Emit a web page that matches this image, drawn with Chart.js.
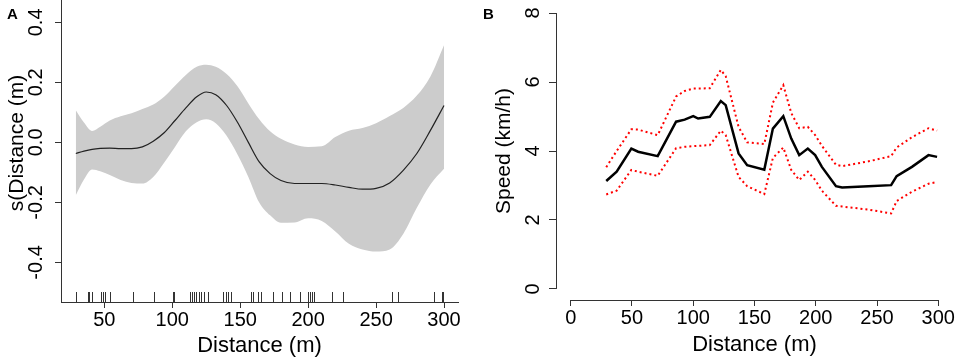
<!DOCTYPE html>
<html lang="en">
  <head>
    <meta charset="UTF-8" />
    <title>Distance effect and speed</title>
    <script src="https://cdn.jsdelivr.net/npm/chart.js"></script>
    <style>
      body {
        margin: 0;
        background: #fff;
      }
      .wrap {
        position: relative;
        width: 957px;
        height: 359px;
        overflow: hidden;
      }
      #chartA {
        position: absolute;
        left: 0;
        top: -16px;
      }
      #chartB {
        position: absolute;
        left: 478px;
        top: 0;
      }
    </style>
  </head>
  <body>
    <div class="wrap">
      <canvas id="chartA" width="478" height="375"></canvas>
      <canvas id="chartB" width="479" height="359"></canvas>
    </div>

    <script>
      // Panel A: smooth term s(Distance) with its confidence band
      const distA = [29, 35, 41, 47, 54, 62, 70, 78, 86, 94, 102, 110, 118, 125, 132, 140, 148,
        156, 164, 172, 180, 190, 200, 210, 220, 230, 240, 250, 260, 270, 280, 290, 300];
      const fitA = [-0.037, -0.029, -0.023, -0.02, -0.019, -0.021, -0.021, -0.015, 0.004, 0.032,
        0.073, 0.115, 0.152, 0.168, 0.159, 0.123, 0.067, 0.0, -0.065, -0.104, -0.127, -0.137,
        -0.137, -0.137, -0.142, -0.15, -0.156, -0.153, -0.135, -0.093, -0.037, 0.04, 0.123];
      const upperA = [0.107, 0.066, 0.038, 0.052, 0.073, 0.087, 0.097, 0.111, 0.126, 0.152, 0.189,
        0.225, 0.252, 0.259, 0.252, 0.228, 0.187, 0.13, 0.077, 0.037, 0.012, -0.007, -0.015,
        -0.013, 0.018, 0.039, 0.048, 0.064, 0.088, 0.115, 0.156, 0.22, 0.324];
      const lowerA = [-0.176, -0.124, -0.09, -0.096, -0.109, -0.125, -0.135, -0.137, -0.115, -0.068,
        -0.015, 0.037, 0.067, 0.077, 0.064, 0.022, -0.04, -0.115, -0.2, -0.243, -0.268, -0.267,
        -0.253, -0.262, -0.297, -0.338, -0.357, -0.364, -0.357, -0.305, -0.218, -0.14, -0.088];
      const rugA = [28.9, 37.7, 39, 41.2, 47.3, 49, 50.7, 54.5, 71.3, 86.3, 100.3, 101.3, 113.1,
        114.5, 116, 117.7, 119.4, 121.1, 123.4, 126.5, 137.6, 139.3, 141, 143, 157.7, 159.2,
        162.9, 165.3, 174.4, 180.5, 186.7, 194, 200.1, 201.4, 202.6, 204.6, 217.3, 225.4, 262,
        265.9, 292.6, 298.3, 299.5];
      const xTicksA = [50, 100, 150, 200, 250, 300];
      const yTicksA = [-0.4, -0.2, 0, 0.2, 0.4];

      // Panel B: observed speed with upper / lower bounds
      const distB = [29, 37.5, 49.5, 55, 71, 86, 93, 100, 104, 113.5, 122.5, 126.5, 137, 144, 158,
        165, 173.5, 180, 186.5, 193.5, 199.5, 205, 216.5, 221.5, 243, 261.5, 266, 278.5, 292, 299];
      const speedB = [3.13, 3.4, 4.07, 3.98, 3.85, 4.85, 4.91, 5.01, 4.94, 4.99, 5.45, 5.33, 3.93,
        3.59, 3.46, 4.65, 5.01, 4.36, 3.88, 4.07, 3.88, 3.54, 2.98, 2.94, 2.98, 3.01, 3.27, 3.54,
        3.88, 3.83];
      const upperB = [3.53, 4.0, 4.63, 4.62, 4.46, 5.58, 5.74, 5.81, 5.81, 5.82, 6.35, 6.17, 4.7,
        4.25, 4.2, 5.4, 5.91, 5.1, 4.66, 4.7, 4.46, 4.15, 3.6, 3.56, 3.7, 3.85, 4.1, 4.4, 4.66, 4.59];
      const lowerB = [2.74, 2.85, 3.45, 3.4, 3.28, 4.08, 4.12, 4.14, 4.15, 4.17, 4.59, 4.46, 3.25,
        2.98, 2.75, 3.8, 4.1, 3.45, 3.16, 3.4, 3.16, 2.85, 2.41, 2.39, 2.3, 2.19, 2.55, 2.82, 3.05,
        3.1];
      const xTicksB = [0, 50, 100, 150, 200, 250, 300];
      const yTicksB = [0, 2, 4, 6, 8];

      const family = '"Liberation Sans", Arial, Helvetica, sans-serif';
      const axisColor = "#333";

      const pts = (xs, ys) => xs.map((x, i) => ({ x: x, y: ys[i] }));

      // R-style rotated y tick labels
      function drawYLabels(chart, gap, fmt) {
        const s = chart.scales.y;
        const ctx = chart.ctx;
        ctx.save();
        ctx.font = "20px " + family;
        ctx.fillStyle = "#000";
        ctx.textAlign = "center";
        ctx.textBaseline = "middle";
        s.ticks.forEach((t) => {
          ctx.save();
          ctx.translate(chart.chartArea.left - gap, s.getPixelForValue(t.value));
          ctx.rotate(-Math.PI / 2);
          ctx.fillText(fmt(t.value), 0, 0);
          ctx.restore();
        });
        ctx.restore();
      }

      function drawLetter(chart, text, x, y) {
        const ctx = chart.ctx;
        ctx.save();
        ctx.font = "bold 15px " + family;
        ctx.fillStyle = "#000";
        ctx.textAlign = "left";
        ctx.textBaseline = "alphabetic";
        ctx.fillText(text, x, y);
        ctx.restore();
      }

      const extrasA = {
        id: "extrasA",
        afterDatasetsDraw(chart) {
          const xs = chart.scales.x;
          const bottom = chart.chartArea.bottom;
          const ctx = chart.ctx;
          ctx.save();
          ctx.strokeStyle = axisColor;
          ctx.lineWidth = 1;
          ctx.beginPath();
          rugA.forEach((v) => {
            const x = Math.round(xs.getPixelForValue(v)) + 0.5;
            ctx.moveTo(x, bottom);
            ctx.lineTo(x, bottom - 10);
          });
          ctx.stroke();
          ctx.restore();
        },
        afterDraw(chart) {
          drawYLabels(chart, 24.6, (v) => v.toFixed(1));
          drawLetter(chart, "A", 7, 34.5);
        },
      };

      const extrasB = {
        id: "extrasB",
        afterDraw(chart) {
          const xs = chart.scales.x;
          const ys = chart.scales.y;
          const area = chart.chartArea;
          const ctx = chart.ctx;
          ctx.save();
          ctx.strokeStyle = axisColor;
          ctx.lineWidth = 1;
          ctx.beginPath();
          const lx = Math.round(area.left) + 0.5;
          ctx.moveTo(lx, ys.getPixelForValue(yTicksB[0]));
          ctx.lineTo(lx, ys.getPixelForValue(yTicksB[yTicksB.length - 1]));
          const by = Math.round(area.bottom) + 0.5;
          ctx.moveTo(xs.getPixelForValue(xTicksB[0]), by);
          ctx.lineTo(xs.getPixelForValue(xTicksB[xTicksB.length - 1]), by);
          ctx.stroke();
          ctx.restore();
          drawYLabels(chart, 23, (v) => String(v));
          drawLetter(chart, "B", 5, 18.5);
        },
      };

      new Chart(document.getElementById("chartA"), {
        type: "line",
        data: {
          datasets: [
            {
              label: "s(Distance)",
              data: pts(distA, fitA),
              borderColor: "#222",
              borderWidth: 1.2,
              pointRadius: 0,
              cubicInterpolationMode: "monotone",
              fill: false,
            },
            {
              label: "upper",
              data: pts(distA, upperA),
              borderColor: "rgba(0,0,0,0)",
              borderWidth: 0,
              backgroundColor: "#cccccc",
              pointRadius: 0,
              cubicInterpolationMode: "monotone",
              fill: "+1",
            },
            {
              label: "lower",
              data: pts(distA, lowerA),
              borderColor: "rgba(0,0,0,0)",
              borderWidth: 0,
              pointRadius: 0,
              cubicInterpolationMode: "monotone",
              fill: false,
            },
          ],
        },
        options: {
          responsive: false,
          animation: false,
          layout: { padding: { left: 0, right: 20, top: 0, bottom: 0 } },
          plugins: { legend: { display: false }, tooltip: { enabled: false } },
          scales: {
            x: {
              type: "linear",
              min: 18.1,
              max: 310.3,
              afterBuildTicks: (s) => {
                s.ticks = xTicksA.map((v) => ({ value: v }));
              },
              afterFit: (s) => {
                s.height = 57;
              },
              grid: { drawOnChartArea: false, tickLength: 6, color: axisColor },
              border: { display: true, color: axisColor, width: 1 },
              ticks: { padding: 0, color: "#000", autoSkip: false, maxRotation: 0, font: { family: family, size: 20 } },
              title: {
                display: true,
                text: "Distance (m)",
                color: "#000",
                font: { family: family, size: 22 },
                padding: { top: 0, bottom: 0 },
              },
            },
            y: {
              type: "linear",
              min: -0.532,
              max: 0.528,
              afterBuildTicks: (s) => {
                s.ticks = yTicksA.map((v) => ({ value: v }));
              },
              afterFit: (s) => {
                s.width = 61;
              },
              grid: { drawOnChartArea: false, tickLength: 6, color: axisColor },
              border: { display: true, color: axisColor, width: 1 },
              ticks: { display: false },
              title: {
                display: true,
                text: "s(Distance (m)",
                color: "#000",
                font: { family: family, size: 21 },
                padding: { top: 5, bottom: 0 },
              },
            },
          },
        },
        plugins: [extrasA],
      });

      new Chart(document.getElementById("chartB"), {
        type: "line",
        data: {
          datasets: [
            {
              label: "Speed",
              data: pts(distB, speedB),
              borderColor: "#000",
              borderWidth: 2.5,
              pointRadius: 0,
              tension: 0,
              fill: false,
            },
            {
              label: "upper",
              data: pts(distB, upperB),
              borderColor: "#ff0000",
              borderWidth: 2,
              borderDash: [2, 3],
              pointRadius: 0,
              tension: 0,
              fill: false,
            },
            {
              label: "lower",
              data: pts(distB, lowerB),
              borderColor: "#ff0000",
              borderWidth: 2,
              borderDash: [2, 3],
              pointRadius: 0,
              tension: 0,
              fill: false,
            },
          ],
        },
        options: {
          responsive: false,
          animation: false,
          layout: { padding: { left: 0, right: 4, top: 2, bottom: 0 } },
          plugins: { legend: { display: false }, tooltip: { enabled: false } },
          scales: {
            x: {
              type: "linear",
              min: -12,
              max: 312,
              afterBuildTicks: (s) => {
                s.ticks = xTicksB.map((v) => ({ value: v }));
              },
              afterFit: (s) => {
                s.height = 59;
              },
              grid: { drawOnChartArea: false, tickLength: 6, color: axisColor },
              border: { display: false },
              ticks: { padding: 0, color: "#000", autoSkip: false, maxRotation: 0, font: { family: family, size: 20 } },
              title: {
                display: true,
                text: "Distance (m)",
                color: "#000",
                font: { family: family, size: 22 },
                padding: { top: 0, bottom: 1 },
              },
            },
            y: {
              type: "linear",
              min: -0.32,
              max: 8.32,
              afterBuildTicks: (s) => {
                s.ticks = yTicksB.map((v) => ({ value: v }));
              },
              afterFit: (s) => {
                s.width = 78;
              },
              grid: { drawOnChartArea: false, tickLength: 7, color: axisColor },
              border: { display: false },
              ticks: { display: false },
              title: {
                display: true,
                text: "Speed (km/h)",
                color: "#000",
                font: { family: family, size: 21 },
                padding: { top: 14, bottom: 0 },
              },
            },
          },
        },
        plugins: [extrasB],
      });
    </script>
  </body>
</html>
